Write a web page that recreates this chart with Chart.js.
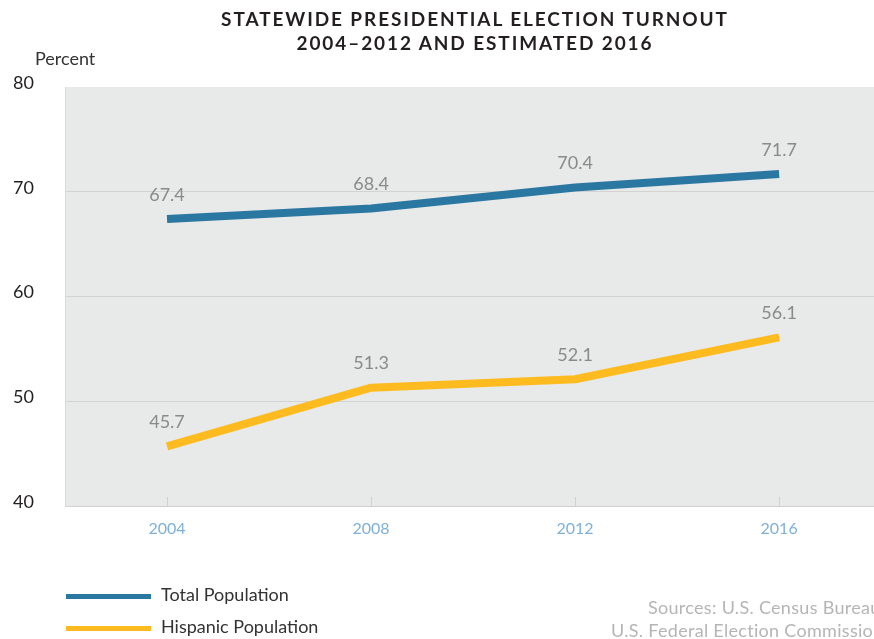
<!DOCTYPE html>
<html>
<head>
<meta charset="utf-8">
<script src="https://cdn.jsdelivr.net/npm/chart.js@4"></script>
<style>
  html, body { margin: 0; padding: 0; background: #fff; }
  #wrap { position: relative; width: 874px; height: 639px; overflow: hidden; font-family: Lato, "Open Sans", sans-serif; }
  #title { position: absolute; left: 0; width: 950px; top: 7px; text-align: center; font-weight: 700; font-size: 19px; line-height: 24px; letter-spacing: 1.9px; color: #231f20; }
  #unit { position: absolute; left: 35px; top: 47px; font-size: 18px; color: #333; }
  #legend { position: absolute; left: 66px; top: 583px; }
  .item { position: relative; height: 32px; }
  .swatch { position: absolute; left: 0; top: 11px; width: 85px; height: 5px; }
  .label { position: absolute; left: 95px; top: 0; font-size: 18px; color: #333; white-space: nowrap; }
  .src { position: absolute; font-size: 18px; color: #b5b5b5; white-space: nowrap; letter-spacing: 0.3px; }
  canvas { position: absolute; left: 0; top: 0; }
</style>
</head>
<body>
<div id="wrap">
  <canvas id="turnoutChart" width="874" height="639"></canvas>
  <div id="title">STATEWIDE PRESIDENTIAL ELECTION TURNOUT<br>2004–2012 AND ESTIMATED 2016</div>
  <div id="unit">Percent</div>
  <div id="legend"></div>
  <div class="src" style="left:648px; top:596px;">Sources: U.S. Census Bureau,</div>
  <div class="src" style="left:611px; top:619px;">U.S. Federal Election Commission</div>
</div>
<script>
// Chart data
const years = [2004, 2008, 2012, 2016];
const totalPopulation = [67.4, 68.4, 70.4, 71.7];
const hispanicPopulation = [45.7, 51.3, 52.1, 56.1];
const seriesNames = ['Total Population', 'Hispanic Population'];
const seriesColors = ['#2a78a1', '#fdbb1f'];
const yTicks = [40, 50, 60, 70, 80];

function toPoints(values) {
  return years.map((yr, i) => ({ x: yr, y: values[i] }));
}

// Gray plot background + small upward ticks on the x axis
const plotBg = {
  id: 'plotBg',
  beforeDraw(chart) {
    const { ctx, chartArea: a } = chart;
    ctx.save();
    ctx.fillStyle = '#e8e9e9';
    ctx.fillRect(a.left, a.top, a.right - a.left, a.bottom - a.top);
    ctx.restore();
  },
  afterDatasetsDraw(chart) {
    const { ctx, chartArea: a } = chart;
    const xs = chart.scales.x;
    ctx.save();
    ctx.strokeStyle = '#cfcfcf';
    ctx.lineWidth = 1;
    years.forEach(yr => {
      const px = Math.round(xs.getPixelForValue(yr)) + 0.5;
      ctx.beginPath();
      ctx.moveTo(px, a.bottom);
      ctx.lineTo(px, a.bottom - 9);
      ctx.stroke();
    });
    ctx.restore();
  }
};

// Value labels above each point
const valueLabels = {
  id: 'valueLabels',
  afterDatasetsDraw(chart) {
    const { ctx } = chart;
    ctx.save();
    ctx.font = '18px Lato, "Open Sans", sans-serif';
    ctx.fillStyle = '#8a8a8a';
    ctx.textAlign = 'center';
    ctx.textBaseline = 'middle';
    chart.data.datasets.forEach((ds, di) => {
      chart.getDatasetMeta(di).data.forEach((pt, i) => {
        ctx.fillText(ds.data[i].y.toFixed(1), pt.x, pt.y - 24);
      });
    });
    ctx.restore();
  }
};

const ctx = document.getElementById('turnoutChart').getContext('2d');
const turnoutChart = new Chart(ctx, {
  type: 'line',
  data: {
    datasets: [
      { label: seriesNames[0], data: toPoints(totalPopulation), borderColor: seriesColors[0] },
      { label: seriesNames[1], data: toPoints(hispanicPopulation), borderColor: seriesColors[1] }
    ]
  },
  options: {
    responsive: false,
    animation: false,
    layout: { padding: { left: 13, top: 87, right: 0, bottom: 93 } },
    elements: {
      line: { borderWidth: 8, tension: 0, borderCapStyle: 'butt', borderJoinStyle: 'round' },
      point: { radius: 0, hoverRadius: 0 }
    },
    plugins: { legend: { display: false }, tooltip: { enabled: false } },
    scales: {
      x: {
        type: 'linear',
        min: 2002,
        max: 2017.86,
        afterBuildTicks: axis => { axis.ticks = years.map(v => ({ value: v })); },
        afterFit: axis => { axis.height = 40; },
        grid: { display: false, drawTicks: false },
        border: { display: true, color: '#d0d0d0', width: 1 },
        ticks: {
          padding: 13,
          color: '#7fb1d7',
          font: { family: 'Lato, "Open Sans", sans-serif', size: 16 },
          callback: v => String(v)
        }
      },
      y: {
        min: 40,
        max: 80,
        afterBuildTicks: axis => { axis.ticks = yTicks.map(v => ({ value: v })); },
        afterFit: axis => { axis.width = 52; },
        grid: {
          color: ctx => (ctx.tick && (ctx.tick.value === 40 || ctx.tick.value === 80)) ? 'rgba(0,0,0,0)' : '#d3d3d3',
          drawTicks: false
        },
        border: { display: true, color: '#dadada', width: 1 },
        ticks: {
          crossAlign: 'far',
          padding: 0,
          labelOffset: -4,
          color: '#231f20',
          font: { family: 'Lato, "Open Sans", sans-serif', size: 18 }
        }
      }
    }
  },
  plugins: [plotBg, valueLabels]
});

// HTML legend with long line swatches
const legend = document.getElementById('legend');
seriesNames.forEach((name, i) => {
  const item = document.createElement('div');
  item.className = 'item';
  item.innerHTML = `<div class="swatch" style="background:${seriesColors[i]}"></div><div class="label">${name}</div>`;
  legend.appendChild(item);
});
</script>
</body>
</html>
